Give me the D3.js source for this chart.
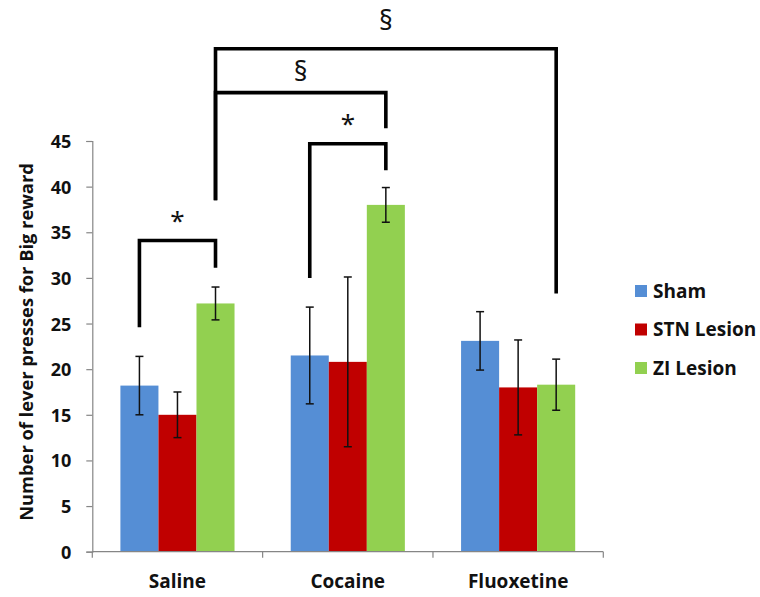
<!DOCTYPE html>
<html>
<head>
<meta charset="utf-8">
<script src="https://cdn.jsdelivr.net/npm/d3@7/dist/d3.min.js"></script>
<style>
  html, body { margin: 0; padding: 0; background: #fff; }
  svg { display: block; font-family: "Open Sans", "DejaVu Sans", sans-serif; font-weight: bold; }
</style>
</head>
<body>
<svg id="chart" width="760" height="597"></svg>
<script>
// Treatments along the x axis and lesion groups within each treatment
const categories = ["Saline", "Cocaine", "Fluoxetine"];
const groups = ["Sham", "STN Lesion", "ZI Lesion"];
const groupColors = ["#558ed5", "#c00000", "#92d050"];

// Mean lever presses per treatment, one array per group
const shamMeans = [18.2, 21.5, 23.1];
const stnMeans  = [15.0, 20.8, 18.0];
const ziMeans   = [27.2, 38.0, 18.3];

// Error (half-length of error bar) per treatment
const shamErr = [3.2, 5.3, 3.2];
const stnErr  = [2.5, 9.3, 5.2];
const ziErr   = [1.8, 1.9, 2.8];

const yTicks = [0, 5, 10, 15, 20, 25, 30, 35, 40, 45];

// Significance brackets: endpoints given as [category, group], heights in data units
const brackets = [
  { from: ["Saline", "Sham"],  to: ["Saline", "ZI Lesion"],  top: 34.1, fromEnd: 24.6, toEnd: 31.1, label: "*", labelY: 36.5 },
  { from: ["Cocaine", "Sham"], to: ["Cocaine", "ZI Lesion"], top: 44.7, fromEnd: 30.0, toEnd: 41.8, label: "*", labelY: 47.2 },
  { from: ["Saline", "ZI Lesion"], to: ["Cocaine", "ZI Lesion"], top: 50.3, fromEnd: 38.5, toEnd: 46.4, label: "§", labelY: 52.6 },
  { from: ["Saline", "ZI Lesion"], to: ["Fluoxetine", "ZI Lesion"], top: 55.1, fromEnd: 38.5, toEnd: 28.3, label: "§", labelY: 58.2 }
];

const meanSeries = [shamMeans, stnMeans, ziMeans];
const errSeries = [shamErr, stnErr, ziErr];

const data = [];
categories.forEach((c, ci) => {
  groups.forEach((g, gi) => {
    data.push({ category: c, group: g, value: meanSeries[gi][ci], err: errSeries[gi][ci], color: groupColors[gi] });
  });
});

const svg = d3.select("#chart");
const plot = { left: 92.3, right: 603.3, top: 141, bottom: 551.7 };

const x = d3.scaleBand().domain(categories).range([plot.left, plot.right]).padding(0);
const xInner = d3.scaleBand().domain(groups)
  .range([x.bandwidth() * 0.165, x.bandwidth() * 0.835]).padding(0);
const y = d3.scaleLinear().domain([0, 45]).range([plot.bottom, plot.top]);

const axisColor = "#868686";
const barCenter = (c, g) => x(c) + xInner(g) + xInner.bandwidth() / 2;

// Bars
svg.append("g").selectAll("rect").data(data).join("rect")
  .attr("x", d => x(d.category) + xInner(d.group))
  .attr("y", d => y(d.value))
  .attr("width", xInner.bandwidth())
  .attr("height", d => y(0) - y(d.value))
  .attr("fill", d => d.color);

// Error bars
const eb = svg.append("g").attr("stroke", "#111").attr("stroke-width", 1.5);
data.forEach(d => {
  const cx = barCenter(d.category, d.group);
  const y1 = y(d.value + d.err), y0 = y(d.value - d.err);
  eb.append("line").attr("x1", cx).attr("x2", cx).attr("y1", y1).attr("y2", y0);
  eb.append("line").attr("x1", cx - 4).attr("x2", cx + 4).attr("y1", y1).attr("y2", y1);
  eb.append("line").attr("x1", cx - 4).attr("x2", cx + 4).attr("y1", y0).attr("y2", y0);
});

// Y axis
const yAxis = svg.append("g").attr("transform", `translate(${plot.left},0)`)
  .call(d3.axisLeft(y).tickValues(yTicks).tickSize(6).tickPadding(15));
yAxis.select(".domain").attr("stroke", axisColor).attr("stroke-width", 1.2);
yAxis.selectAll(".tick line").attr("stroke", axisColor).attr("stroke-width", 1.2);
yAxis.selectAll(".tick text").attr("fill", "#111").attr("font-size", 18)
  .attr("font-family", "'Open Sans', sans-serif").attr("font-weight", "bold").attr("dy", "0.36em");

// X axis with tick marks at category boundaries
const xg = svg.append("g");
xg.append("line").attr("x1", plot.left).attr("x2", plot.right)
  .attr("y1", y(0)).attr("y2", y(0)).attr("stroke", axisColor).attr("stroke-width", 1.2);
const boundaries = categories.map(c => x(c)).concat([x(categories[categories.length - 1]) + x.bandwidth()]);
xg.selectAll("line.sep").data(boundaries).join("line").attr("class", "sep")
  .attr("x1", d => d).attr("x2", d => d)
  .attr("y1", y(0)).attr("y2", y(0) + 6)
  .attr("stroke", axisColor).attr("stroke-width", 1.2);
xg.selectAll("text").data(categories).join("text")
  .attr("x", d => x(d) + x.bandwidth() / 2)
  .attr("y", 588)
  .attr("text-anchor", "middle")
  .attr("font-size", 19)
  .attr("fill", "#111")
  .text(d => d);

// Y axis title
svg.append("text")
  .attr("transform", "translate(33,342) rotate(-90)")
  .attr("text-anchor", "middle")
  .attr("font-size", 18.3)
  .attr("fill", "#111")
  .text("Number of lever presses for Big reward");

// Significance brackets
const br = svg.append("g").attr("fill", "none").attr("stroke", "#000").attr("stroke-width", 3.6);
brackets.forEach(b => {
  const x0 = barCenter(b.from[0], b.from[1]);
  const x1 = barCenter(b.to[0], b.to[1]);
  const path = d3.path();
  path.moveTo(x0, y(b.fromEnd));
  path.lineTo(x0, y(b.top));
  path.lineTo(x1, y(b.top));
  path.lineTo(x1, y(b.toEnd));
  br.append("path").attr("d", path.toString()).attr("stroke-linejoin", "miter").attr("stroke-linecap", "butt");
  const isStar = b.label === "*";
  svg.append("text")
    .attr("x", (x0 + x1) / 2)
    .attr("y", y(b.labelY))
    .attr("text-anchor", "middle")
    .attr("font-family", "'Noto Sans', sans-serif")
    .attr("font-weight", "normal")
    .attr("font-size", isStar ? 26 : 27)
    .attr("dy", isStar ? "0.45em" : "0.36em")
    .attr("fill", "#111")
    .text(b.label);
});

// Legend
const legend = svg.append("g");
groups.forEach((g, i) => {
  const cy = 291 + i * 38.5;
  legend.append("rect").attr("x", 635).attr("y", cy - 6).attr("width", 12).attr("height", 12).attr("fill", groupColors[i]);
  legend.append("text").attr("x", 653).attr("y", cy).attr("dy", "0.36em")
    .attr("font-size", 19).attr("fill", "#111").text(g);
});
</script>
</body>
</html>
